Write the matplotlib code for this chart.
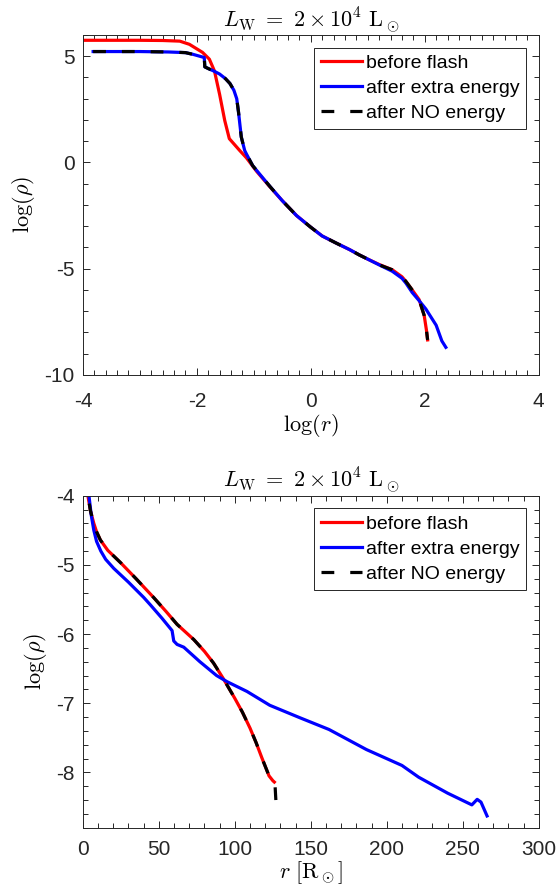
import matplotlib
matplotlib.use("Agg")
import matplotlib.pyplot as plt
from matplotlib.ticker import MultipleLocator

plt.rcParams["font.family"] = ["Liberation Sans", "DejaVu Sans"]
plt.rcParams["mathtext.fontset"] = "cm"
plt.rcParams["axes.unicode_minus"] = False

# top panel: log(r) vs log(rho)
top_red_x = [-4.1, -3.0, -2.6, -2.3, -2.13, -1.9, -1.78, -1.69, -1.6, -1.51, -1.43,
             -1.25, -1.13, -0.95, -0.72, -0.5, -0.25, 0.0, 0.2, 0.45, 0.68, 0.85, 1.0, 1.2,
             1.43, 1.6, 1.67, 1.78, 1.9, 1.99, 2.03, 2.05]
top_red_y = [5.75, 5.75, 5.74, 5.71, 5.56, 5.18, 4.86, 4.3, 3.2, 1.97, 1.12,
             0.57, 0.22, -0.42, -1.14, -1.8, -2.5, -3.05, -3.46, -3.8, -4.1, -4.35, -4.55, -4.8,
             -5.05, -5.38, -5.6, -6.0, -6.45, -7.2, -7.9, -8.35]

top_blue_x = [-3.82, -3.0, -2.5, -2.2, -2.07, -1.95, -1.87, -1.86, -1.8, -1.7, -1.6, -1.5,
              -1.42, -1.35, -1.3, -1.27, -1.22, -1.16, -1.13, -1.02, -0.72, -0.5, -0.25, 0.0,
              0.2, 0.45, 0.68, 0.85, 1.0, 1.2, 1.43, 1.6, 1.67, 1.78, 1.9, 2.02, 2.2,
              2.3, 2.37]
top_blue_y = [5.22, 5.22, 5.2, 5.17, 5.09, 5.0, 4.94, 4.5, 4.42, 4.3, 4.16, 3.95,
              3.72, 3.4, 3.0, 2.4, 1.2, 0.56, 0.4, -0.15, -1.12, -1.8, -2.5, -3.05,
              -3.46, -3.8, -4.1, -4.35, -4.55, -4.82, -5.12, -5.45, -5.68, -6.12, -6.5, -6.9, -7.66,
              -8.4, -8.7]

# after NO energy: follows the blue core, then the red envelope
top_black_x = top_blue_x[:30] + top_red_x[24:]
top_black_y = top_blue_y[:30] + top_red_y[24:]

# bottom panel: r [Rsun] vs log(rho)
bot_red_x = [2.5, 3.3, 5, 7.2, 9, 11.5, 16.4, 24.9, 35, 46.5, 55, 62, 73, 80, 86, 92.3, 100,
             105, 110, 114, 117.8, 122.5, 125, 126]
bot_red_y = [-3.7, -4.0, -4.22, -4.4, -4.52, -4.64, -4.79, -4.97, -5.2, -5.47, -5.68, -5.86,
             -6.08, -6.25, -6.42, -6.64, -6.93, -7.13, -7.36, -7.57, -7.79, -8.05, -8.12, -8.14]

bot_black_x = bot_red_x[:22] + [124.5, 126.5, 127]
bot_black_y = bot_red_y[:22] + [-8.1, -8.2, -8.4]

bot_blue_x = [2.8, 4, 5.5, 7.2, 9, 11.8, 15, 20.3, 30, 40, 44.5, 52, 58.7, 59.8, 62, 66.4,
              77, 88, 95, 108, 123, 142.8, 162, 186.6, 210, 221, 240, 256, 259.5, 262, 266]
bot_blue_y = [-3.7, -4.0, -4.28, -4.5, -4.66, -4.8, -4.92, -5.05, -5.25, -5.47, -5.58, -5.77,
              -5.95, -6.1, -6.15, -6.19, -6.4, -6.6, -6.69, -6.83, -7.03, -7.21, -7.38, -7.67,
              -7.9, -8.07, -8.3, -8.47, -8.39, -8.43, -8.63]

labels = ["before flash", "after extra energy", "after NO energy"]
title = r"$L_{\rm W}\ =\ 2\times10^4\ {\rm L}_\odot$"
axcol = "#262626"
lw = 2.3
dash = [4.0, 5.0]


def style_axes(ax, xpad):
    for s in ax.spines.values():
        s.set_color(axcol)
        s.set_linewidth(0.7)
    ax.tick_params(which="both", direction="in", top=True, right=True,
                   colors=axcol, labelsize=15, width=0.7)
    ax.tick_params(which="major", length=5)
    ax.tick_params(which="minor", length=3.5)
    ax.tick_params(axis="x", which="major", pad=xpad)
    ax.tick_params(axis="y", which="major", pad=6)
    leg = ax.legend(loc="upper right", fontsize=14, frameon=True, fancybox=False,
                    framealpha=1, edgecolor=axcol, handlelength=2.1,
                    handletextpad=0.2, borderpad=0.35, labelspacing=0.38,
                    borderaxespad=0.65)
    leg.get_frame().set_linewidth(0.7)


fig = plt.figure(figsize=(5.6, 8.9), dpi=100)
ax1 = fig.add_axes([0.148, 0.5787, 0.814, 0.382])
ax2 = fig.add_axes([0.148, 0.0700, 0.814, 0.373])

ax1.plot(top_red_x, top_red_y, color="red", lw=lw, label=labels[0])
ax1.plot(top_blue_x, top_blue_y, color="blue", lw=lw, label=labels[1])
ax1.plot(top_black_x, top_black_y, color="black", lw=lw, dashes=dash, label=labels[2])
ax1.set_xlim(-4, 4)
ax1.set_ylim(-10, 6)
ax1.xaxis.set_major_locator(MultipleLocator(2))
ax1.xaxis.set_minor_locator(MultipleLocator(0.2))
ax1.yaxis.set_major_locator(MultipleLocator(5))
ax1.yaxis.set_minor_locator(MultipleLocator(1))
ax1.set_xlabel(r"$\log(r)$", fontsize=16, labelpad=1)
ax1.set_ylabel(r"$\log(\rho)$", fontsize=16, labelpad=5)
ax1.set_title(title, fontsize=16, pad=6)
style_axes(ax1, 12)

ax2.plot(bot_red_x, bot_red_y, color="red", lw=lw, label=labels[0])
ax2.plot(bot_blue_x, bot_blue_y, color="blue", lw=lw, label=labels[1])
ax2.plot(bot_black_x, bot_black_y, color="black", lw=lw, dashes=dash, label=labels[2])
ax2.set_xlim(0, 300)
ax2.set_ylim(-8.8, -4)
ax2.xaxis.set_major_locator(MultipleLocator(50))
ax2.xaxis.set_minor_locator(MultipleLocator(10))
ax2.yaxis.set_major_locator(MultipleLocator(1))
ax2.yaxis.set_minor_locator(MultipleLocator(0.2))
ax2.set_xlabel(r"$r\ [{\rm R}_\odot]$", fontsize=16, labelpad=0)
ax2.set_ylabel(r"$\log(\rho)$", fontsize=16, labelpad=5)
ax2.set_title(title, fontsize=16, pad=6)
style_axes(ax2, 9)

fig.savefig("out.png", dpi=100)
